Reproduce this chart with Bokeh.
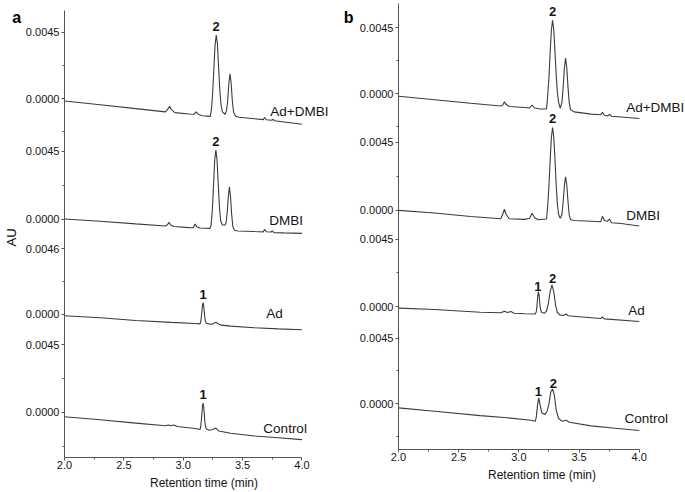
import numpy as np
from bokeh.plotting import figure
from bokeh.layouts import row
from bokeh.models import FixedTicker, PrintfTickFormatter
from bokeh.embed import file_html
from bokeh.resources import INLINE
from bokeh.core.properties import value

# ---------------- data (retention time in min, absorbance in AU) ----------------
names = ["Ad+DMBI", "DMBI", "Ad", "Control"]

# panel a
a_addmbi_t = [2.0, 2.3, 2.6, 2.85, 2.87, 2.885, 2.90, 2.93, 3.05, 3.09, 3.11, 3.13, 3.16, 3.228, 3.238,
              3.248, 3.258, 3.268, 3.278, 3.288, 3.298, 3.308, 3.318, 3.33, 3.353, 3.365, 3.374, 3.384,
              3.394, 3.404, 3.414, 3.424, 3.44, 3.47, 3.6, 3.675, 3.686, 3.70, 3.745, 3.756, 3.77, 3.85, 4.0]
a_addmbi_v = [-0.00016, -0.00042, -0.00068, -0.00090, -0.00072, -0.00052, -0.00075, -0.00095, -0.00104,
              -0.00106, -0.00090, -0.00108, -0.00116, -0.00120, -0.0007, 0.0004, 0.0020, 0.0036, 0.0043,
              0.0037, 0.0021, 0.0006, -0.0004, -0.0009, -0.00106, -0.0008, -0.0002, 0.0010, 0.00168, 0.0010,
              -0.0002, -0.0009, -0.00118, -0.00126, -0.00136, -0.00142, -0.00128, -0.00143, -0.00146,
              -0.00140, -0.00150, -0.00158, -0.00173]

a_dmbi_t = [2.0, 2.3, 2.6, 2.85, 2.867, 2.88, 2.895, 2.92, 3.05, 3.085, 3.10, 3.115, 3.14, 3.225, 3.235,
            3.245, 3.255, 3.265, 3.275, 3.285, 3.295, 3.305, 3.315, 3.33, 3.353, 3.362, 3.371, 3.38, 3.389,
            3.398, 3.408, 3.418, 3.432, 3.46, 3.6, 3.675, 3.686, 3.70, 3.74, 3.75, 3.765, 3.85, 4.0]
a_dmbi_v = [0.0, -0.00015, -0.00032, -0.00046, -0.00038, -0.00022, -0.00040, -0.00050, -0.00057, -0.00058,
            -0.00033, -0.00052, -0.00060, -0.00062, -0.0004, 0.0006, 0.0022, 0.0039, 0.00457, 0.0039, 0.0023,
            0.0008, -0.0001, -0.0004, -0.0004, -0.0002, 0.0005, 0.0015, 0.00214, 0.0015, 0.0003, -0.0005,
            -0.00075, -0.00079, -0.00083, -0.00085, -0.00068, -0.00084, -0.00086, -0.00079, -0.0009,
            -0.00092, -0.00095]

a_ad_t = [2.0, 2.3, 2.6, 2.9, 3.1, 3.142, 3.147, 3.152, 3.157, 3.162, 3.167, 3.172, 3.177, 3.182, 3.187,
          3.195, 3.215, 3.245, 3.262, 3.275, 3.29, 3.32, 3.4, 3.6, 3.8, 4.0]
a_ad_v = [-0.00012, -0.00026, -0.00045, -0.00058, -0.00066, -0.00069, -0.00053, -0.00026, 0.00017, 0.00062,
          0.00082, 0.00062, 0.00017, -0.00025, -0.0005, -0.00065, -0.00069, -0.00072, -0.00062, -0.00058,
          -0.00066, -0.00078, -0.00085, -0.00096, -0.00104, -0.0011]

a_ctrl_t = [2.0, 2.3, 2.6, 2.85, 2.875, 2.9, 2.92, 2.95, 3.1, 3.142, 3.147, 3.152, 3.157, 3.162, 3.167,
            3.172, 3.177, 3.182, 3.187, 3.195, 3.22, 3.25, 3.275, 3.30, 3.4, 3.6, 3.8, 4.0]
a_ctrl_v = [-0.00030, -0.00050, -0.00072, -0.00090, -0.00084, -0.00090, -0.00085, -0.00095, -0.00108,
            -0.00115, -0.00096, -0.0006, -0.0001, 0.0004, 0.00062, 0.0004, -0.0001, -0.0006, -0.0009,
            -0.00112, -0.0012, -0.00115, -0.00105, -0.00125, -0.0014, -0.00158, -0.0017, -0.00182]

# panel b
b_addmbi_t = [2.0, 2.3, 2.6, 2.85, 2.865, 2.88, 2.895, 2.92, 3.05, 3.09, 3.11, 3.13, 3.18, 3.23, 3.24, 3.25,
              3.26, 3.27, 3.28, 3.29, 3.30, 3.31, 3.32, 3.33, 3.344, 3.358, 3.368, 3.378, 3.388, 3.398,
              3.408, 3.418, 3.43, 3.46, 3.6, 3.68, 3.695, 3.71, 3.74, 3.753, 3.77, 3.85, 4.0]
b_addmbi_v = [-0.00018, -0.00042, -0.00066, -0.00085, -0.0008, -0.00057, -0.00075, -0.00088, -0.00095,
              -0.00098, -0.00078, -0.00098, -0.00105, -0.00105, -0.0001, 0.0011, 0.0028, 0.0043, 0.0050,
              0.0044, 0.0029, 0.0013, 0.0001, -0.0006, -0.0010, -0.0006, 0.0004, 0.0017, 0.00243, 0.0018,
              0.0005, -0.0006, -0.0011, -0.00125, -0.0014, -0.00145, -0.00128, -0.00148, -0.00152, -0.00142,
              -0.00155, -0.0016, -0.0017]

b_dmbi_t = [2.0, 2.3, 2.6, 2.85, 2.865, 2.88, 2.895, 2.92, 3.05, 3.09, 3.11, 3.13, 3.16, 3.23, 3.24, 3.25,
            3.26, 3.27, 3.28, 3.29, 3.30, 3.31, 3.32, 3.33, 3.344, 3.358, 3.368, 3.378, 3.388, 3.398, 3.408,
            3.418, 3.43, 3.46, 3.6, 3.68, 3.695, 3.71, 3.735, 3.753, 3.77, 3.85, 4.0]
b_dmbi_v = [-0.00002, -0.0002, -0.00043, -0.00058, -0.0003, 0.00005, -0.0003, -0.00058, -0.00062, -0.00055,
            -0.00022, -0.0005, -0.00065, -0.0006, 0.0003, 0.0016, 0.0033, 0.0048, 0.0055, 0.0049, 0.0034,
            0.0017, 0.0004, -0.0003, -0.00055, -0.0003, 0.0005, 0.0016, 0.00222, 0.0017, 0.0006, -0.0003,
            -0.00065, -0.0007, -0.00075, -0.00078, -0.00042, -0.0007, -0.00075, -0.0006, -0.00085, -0.0009,
            -0.00106]

b_ad_t = [2.0, 2.3, 2.68, 2.85, 2.88, 2.905, 2.934, 2.96, 3.05, 3.136, 3.145, 3.151, 3.157, 3.163, 3.169,
          3.175, 3.182, 3.19, 3.213, 3.23, 3.245, 3.26, 3.275, 3.29, 3.305, 3.32, 3.34, 3.37, 3.393, 3.41,
          3.5, 3.68, 3.695, 3.71, 4.0]
b_ad_v = [-0.00011, -0.0002, -0.00038, -0.00042, -0.00032, -0.0004, -0.00033, -0.00045, -0.00048, -0.0005,
          -0.00035, 0.0001, 0.0007, 0.0010, 0.0007, 0.0001, -0.00025, -0.0004, -0.00044, -0.0003, 0.0002,
          0.0010, 0.00145, 0.0010, 0.0001, -0.0004, -0.00056, -0.0006, -0.0005, -0.00062, -0.00068, -0.0008,
          -0.0007, -0.00083, -0.0010]

b_ctrl_t = [2.0, 2.3, 2.68, 2.9, 3.1, 3.136, 3.145, 3.155, 3.165, 3.175, 3.19, 3.215, 3.235, 3.25, 3.265,
            3.28, 3.295, 3.31, 3.33, 3.36, 3.393, 3.42, 3.6, 3.8, 4.0]
b_ctrl_v = [-0.00027, -0.0005, -0.0008, -0.00095, -0.00112, -0.00119, -0.0009, -0.0001, 0.00041, 0.0000,
            -0.0006, -0.00073, -0.0005, 0.0000, 0.0008, 0.00102, 0.0006, -0.0004, -0.0010, -0.00118,
            -0.00112, -0.00125, -0.0015, -0.00166, -0.00182]

# axis ticks and labels
x_ticks = [2.0, 2.5, 3.0, 3.5, 4.0]
x_minor_ticks = [2.25, 2.75, 3.25, 3.75]
a_top_tick = [0.0045, 0.0045, 0.0046, 0.0045]
a_top_label = ["0.0045", "0.0045", "0.0046", "0.0045"]
b_top_tick = [0.0045, 0.0045, 0.0045, 0.0045]
b_top_label = ["0.0045", "0.0045", "0.0045", "0.0045"]
zero_label = "0.0000"
x_title = "Retention time (min)"
y_title = "AU"

# peak labels: (trace index, label, retention time)
a_peaks = [(0, "2", 3.278), (1, "2", 3.275), (2, "1", 3.167), (3, "1", 3.167)]
b_peaks = [(0, "2", 3.28), (1, "2", 3.28), (2, "1", 3.158), (2, "2", 3.28), (3, "1", 3.162), (3, "2", 3.287)]

# ---------------- layout (stacked layers, pixel-based) ----------------
FONT = "Liberation Sans"
BOTTOM = 34          # same bottom border for every figure in the row
LINE = "#3c3c3c"
AXIS = "#555555"
TXT = "#151515"


def strip(width, height, texts):
    fh = height - BOTTOM
    s = figure(width=width, height=height, x_range=(0, width), y_range=(0, fh),
               output_backend="svg", toolbar_location=None, title=None,
               x_axis_type=None, y_axis_type=None,
               min_border_left=0, min_border_right=0, min_border_top=0, min_border_bottom=BOTTOM)
    s.outline_line_color = None
    s.xgrid.visible = False
    s.ygrid.visible = False
    for (x, sy, txt, size, style, angle, align, base) in texts:
        s.text(x=[x], y=[fh - sy], text=[txt], angle=angle, text_font=value(FONT), text_font_size=size,
               text_font_style=style, text_align=align, text_baseline=base, text_color="#000000")
    return s


def make_panel(width, height, border_left, px_per_min, traces, offsets, gains,
               top_ticks, top_labels, minor_spec, name_pos, peaks, axis_top):
    frame_h = height - BOTTOM
    frame_w = width - border_left
    x_end = 2.0 + frame_w / px_per_min
    p = figure(width=width, height=height, x_range=(2.0, x_end), y_range=(0, frame_h),
               output_backend="svg", toolbar_location=None, title=None,
               min_border_left=border_left, min_border_right=0, min_border_top=0,
               min_border_bottom=BOTTOM)
    p.outline_line_color = None
    p.xgrid.visible = False
    p.ygrid.visible = False

    disp = []
    for k, (t, v) in enumerate(traces):
        y = offsets[k] + np.asarray(v) * gains[k]
        disp.append((np.asarray(t), y))
        p.line(t, y, line_color=LINE, line_width=1.1)

    # trace names
    nx = [name_pos[k][0] for k in range(4)]
    ny = [offsets[k] + name_pos[k][1] for k in range(4)]
    p.text(x=nx, y=ny, text=names, text_font=value(FONT), text_font_size="13.5px",
           text_align="left", text_baseline="middle", text_color=TXT)

    # peak labels
    px_, py_, pt_ = [], [], []
    for k, lab, tt in peaks:
        t, y = disp[k]
        px_.append(tt)
        py_.append(float(np.interp(tt, t, y)) + 8.5)
        pt_.append(lab)
    p.text(x=px_, y=py_, text=pt_, text_font=value(FONT), text_font_size="13px",
           text_font_style="bold", text_align="center", text_baseline="middle", text_color=TXT)

    # x axis
    xa = p.xaxis[0]
    xa.ticker = FixedTicker(ticks=x_ticks, minor_ticks=x_minor_ticks)
    xa.formatter = PrintfTickFormatter(format="%.1f")
    xa.bounds = (2.0, 4.0)
    xa.axis_label = x_title
    xa.axis_label_standoff = 4
    xa.axis_label_text_font = FONT
    xa.axis_label_text_font_size = "12px"
    xa.axis_label_text_font_style = "normal"
    xa.axis_label_text_color = TXT
    # y axis
    ya = p.yaxis[0]
    major, overrides = [], {}
    for k in range(4):
        z = round(offsets[k], 2)
        tp = round(offsets[k] + top_ticks[k] * gains[k], 2)
        major += [z, tp]
        overrides[z] = zero_label
        overrides[tp] = top_labels[k]
    minor = [round(offsets[k] + s * top_ticks[k] / 2 * gains[k], 2) for k, s in minor_spec]
    ya.ticker = FixedTicker(ticks=sorted(major), minor_ticks=sorted(minor))
    ya.major_label_overrides = overrides
    ya.bounds = (0, axis_top)

    for ax in (xa, ya):
        ax.axis_line_color = AXIS
        ax.major_tick_line_color = AXIS
        ax.minor_tick_line_color = AXIS
        ax.major_tick_in = 0
        ax.major_tick_out = 3
        ax.minor_tick_in = 0
        ax.minor_tick_out = 2
        ax.major_label_text_font = FONT
        ax.major_label_text_font_size = "11px"
        ax.major_label_text_color = TXT
    xa.major_label_standoff = 0
    ya.major_label_standoff = 2
    return p


sa = strip(22, 492, [(11.7, 16.7, "a", "16px", "bold", 0.0, "left", "alphabetic"),
                     (11.0, 237.5, y_title, "13px", "normal", np.pi / 2, "center", "middle")])

pa = make_panel(
    width=321, height=492, border_left=39, px_per_min=120.0,
    traces=[(a_addmbi_t, a_addmbi_v), (a_dmbi_t, a_dmbi_v), (a_ad_t, a_ad_v), (a_ctrl_t, a_ctrl_v)],
    offsets=[359.7, 239.0, 143.7, 45.3], gains=[14822, 15111, 14196, 15044],
    top_ticks=a_top_tick, top_labels=a_top_label,
    minor_spec=[(0, 1), (0, -1), (1, 1), (2, 1), (3, 1), (3, -1)],
    name_pos=[(3.733, -13.4), (3.725, -1.0), (3.70, 0.3), (3.675, -16.3)],
    peaks=a_peaks, axis_top=448)

sb = strip(13, 492, [(0.3, 16.7, "b", "16px", "bold", 0.0, "left", "alphabetic")])

pb = make_panel(
    width=329, height=484, border_left=42, px_per_min=120.35,
    traces=[(b_addmbi_t, b_addmbi_v), (b_dmbi_t, b_dmbi_v), (b_ad_t, b_ad_v), (b_ctrl_t, b_ctrl_v)],
    offsets=[356.7, 240.0, 143.3, 45.7], gains=[14667, 15044, 14978, 14667],
    top_ticks=b_top_tick, top_labels=b_top_label,
    minor_spec=[(0, 1), (0, -1), (1, 1), (2, 1), (3, 1), (3, -1)],
    name_pos=[(3.892, -14.0), (3.892, -5.0), (3.909, -4.3), (3.878, -15.0)],
    peaks=b_peaks, axis_top=447)

layout = row(sa, pa, sb, pb)
open("out.html", "w").write(file_html(layout, INLINE))
